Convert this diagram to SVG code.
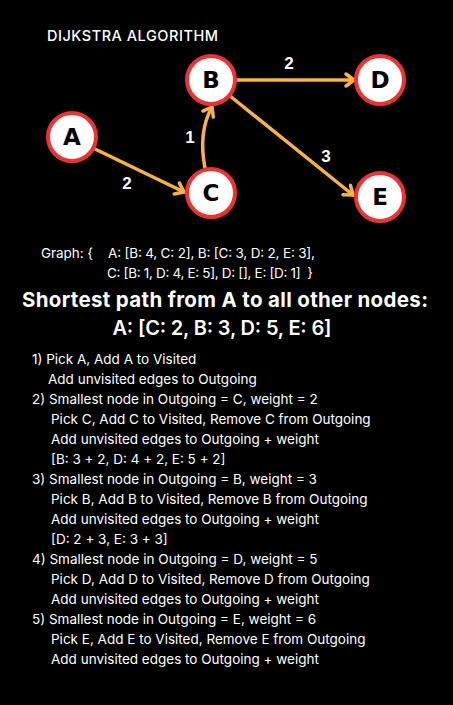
<svg xmlns="http://www.w3.org/2000/svg" width="453" height="705" viewBox="0 0 453 705">
<defs>
<style>
.node circle{fill:#fff;stroke:#ee3131;stroke-width:4}
.node text{font-family:"DejaVu Sans",sans-serif;font-weight:900;font-size:23px;fill:#000;text-anchor:middle}
.edge{fill:none;stroke:#f9b246;stroke-width:3.5;stroke-linecap:round}
.elabel{font-family:"Liberation Sans",sans-serif;font-weight:bold;font-size:17px;fill:#fff;text-anchor:middle}
.t{font-family:"Inter","Noto Sans",sans-serif;fill:#fff}
.step{font-family:"Inter","Noto Sans",sans-serif;font-size:13.5px;fill:#fff}
</style>
<marker id="ah" markerUnits="userSpaceOnUse" markerWidth="16" markerHeight="16" viewBox="0 0 16 16" refX="13" refY="8" orient="auto">
<path d="M5,2 L13,8 L5,14" fill="none" stroke="#f9b246" stroke-width="3.5" stroke-linecap="round" stroke-linejoin="round"/>
</marker>
</defs>
<rect width="453" height="705" fill="#000"/>
<text class="t" x="47" y="41" font-size="14.5" font-weight="500" textLength="171">DIJKSTRA ALGORITHM</text>
<g id="connectors">
<path class="edge" d="M95,149 L184,192" marker-end="url(#ah)"/>
<path class="edge" d="M205,168 Q198,132 212,107" marker-end="url(#ah)"/>
<path class="edge" d="M237,80 L354,80" marker-end="url(#ah)"/>
<path class="edge" d="M230,96 L353,195" marker-end="url(#ah)"/>
<text class="elabel" x="127" y="189">2</text>
<text class="elabel" x="190" y="143">1</text>
<text class="elabel" x="289" y="69">2</text>
<text class="elabel" x="326" y="162">3</text>
</g>
<g id="node-A" class="node"><circle cx="72" cy="137" r="24"/><text x="72" y="145">A</text></g>
<g id="node-B" class="node"><circle cx="211" cy="80" r="24"/><text x="211" y="88">B</text></g>
<g id="node-C" class="node"><circle cx="211" cy="193" r="24"/><text x="211" y="201">C</text></g>
<g id="node-D" class="node"><circle cx="380" cy="80" r="24"/><text x="380" y="88">D</text></g>
<g id="node-E" class="node"><circle cx="380" cy="197" r="24"/><text x="380" y="205">E</text></g>
<text class="t" x="41" y="258" font-size="13.5" textLength="52">Graph: {</text>
<text class="t" x="108" y="258" font-size="13.5" textLength="207">A: [B: 4, C: 2], B: [C: 3, D: 2, E: 3],</text>
<text class="t" x="107" y="278" font-size="13.5" textLength="206" xml:space="preserve">C: [B: 1, D: 4, E: 5], D: [], E: [D: 1]  }</text>
<text class="t" x="225" y="307" font-size="20.5" font-weight="bold" text-anchor="middle" textLength="406">Shortest path from A to all other nodes:</text>
<text class="t" x="222" y="335" font-size="20" font-weight="600" text-anchor="middle" textLength="219">A: [C: 2, B: 3, D: 5, E: 6]</text>
<g class="step">
<text x="32" y="364">1) Pick A, Add A to Visited</text>
<text x="48" y="384">Add unvisited edges to Outgoing</text>
<text x="32" y="404">2) Smallest node in Outgoing = C, weight = 2</text>
<text x="51" y="424">Pick C, Add C to Visited, Remove C from Outgoing</text>
<text x="51" y="444">Add unvisited edges to Outgoing + weight</text>
<text x="51" y="464">[B: 3 + 2, D: 4 + 2, E: 5 + 2]</text>
<text x="32" y="484">3) Smallest node in Outgoing = B, weight = 3</text>
<text x="51" y="504">Pick B, Add B to Visited, Remove B from Outgoing</text>
<text x="51" y="524">Add unvisited edges to Outgoing + weight</text>
<text x="51" y="544">[D: 2 + 3, E: 3 + 3]</text>
<text x="32" y="564">4) Smallest node in Outgoing = D, weight = 5</text>
<text x="51" y="584">Pick D, Add D to Visited, Remove D from Outgoing</text>
<text x="51" y="604">Add unvisited edges to Outgoing + weight</text>
<text x="32" y="624">5) Smallest node in Outgoing = E, weight = 6</text>
<text x="51" y="644">Pick E, Add E to Visited, Remove E from Outgoing</text>
<text x="51" y="664">Add unvisited edges to Outgoing + weight</text>
</g>
</svg>
